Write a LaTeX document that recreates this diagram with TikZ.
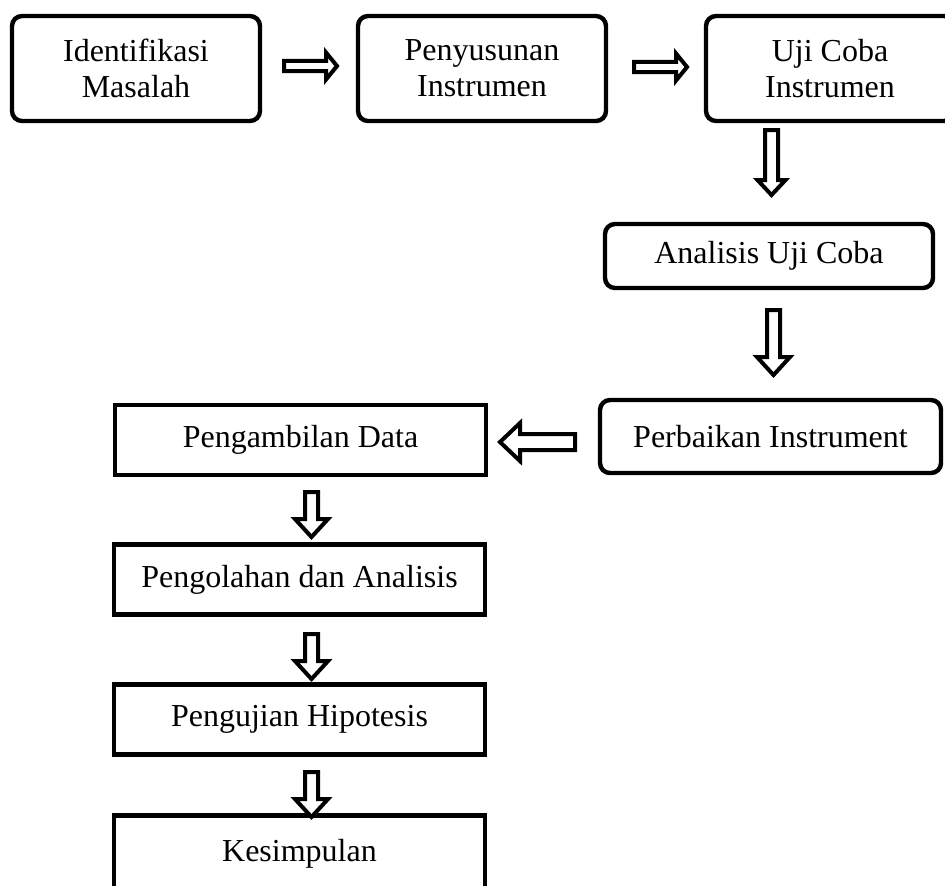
\documentclass[tikz,border=0pt]{standalone}
\usepackage{fontspec}
\setmainfont{Liberation Serif}
\usepackage{tikz}
\usetikzlibrary{calc}
\tikzset{
  kotak/.style={draw=black,line width=2.2pt,rounded corners=5pt,fill=white,align=center,
    inner sep=0pt,font=\fontsize{16}{18}\selectfont},
  kotaksiku/.style={kotak,sharp corners},
  panah/.style n args={3}{draw=black,line width=2pt,fill=white,
    to path={
      ($(\tikztostart)!#1!90:(\tikztotarget)$)
      -- ($($(\tikztotarget)!#3!(\tikztostart)$)!#1!90:(\tikztotarget)$)
      -- ($($(\tikztotarget)!#3!(\tikztostart)$)!#2!90:(\tikztotarget)$)
      -- (\tikztotarget)
      -- ($($(\tikztotarget)!#3!(\tikztostart)$)!#2!-90:(\tikztotarget)$)
      -- ($($(\tikztotarget)!#3!(\tikztostart)$)!#1!-90:(\tikztotarget)$)
      -- ($(\tikztostart)!#1!-90:(\tikztotarget)$) -- cycle}}
}

\begin{document}
\begin{tikzpicture}[x=0.5pt,y=-0.5pt]
\useasboundingbox (0,0) rectangle (945,885);
\clip (0,0) rectangle (945,885);
\node[kotak,minimum width=124pt,minimum height=52.5pt] (identifikasi) at (136,68.5) {Identifikasi\\Masalah};
\node[kotak,minimum width=124pt,minimum height=52.5pt] (penyusunan) at (482,68.5) {Penyusunan\\Instrumen};
\node[kotak,minimum width=124pt,minimum height=52.5pt] (ujicoba) at (830,68.5) {Uji Coba\\Instrumen};
\node[kotak,minimum width=164pt,minimum height=32pt] (analisis) at (769,256) {Analisis Uji Coba};
\node[kotak,minimum width=170.5pt,minimum height=36.5pt] (perbaikan) at (770.5,436.5) {Perbaikan Instrument};
\node[kotaksiku,minimum width=185.5pt,minimum height=35pt] (pengambilan) at (300.5,440) {Pengambilan Data};
\node[kotaksiku,minimum width=185.5pt,minimum height=35pt] (pengolahan) at (299.5,579.5) {Pengolahan dan Analisis};
\node[kotaksiku,minimum width=185.5pt,minimum height=35pt] (pengujian) at (299.5,719.5) {Pengujian Hipotesis};
\node[kotaksiku,minimum width=185.5pt,minimum height=38pt] (kesimpulan) at (299.5,853.5) {Kesimpulan};
\coordinate (p1a) at (284,66); \coordinate (p1b) at (337,66);
\coordinate (p2a) at (634,67); \coordinate (p2b) at (687,67);
\coordinate (p3a) at (771.5,130); \coordinate (p3b) at (771.5,195);
\coordinate (p4a) at (773.5,310); \coordinate (p4b) at (773.5,375);
\coordinate (p5a) at (575,442); \coordinate (p5b) at (500,442);
\coordinate (p6a) at (311.5,492); \coordinate (p6b) at (311.5,537);
\coordinate (p7a) at (311.5,634); \coordinate (p7b) at (311.5,679);
\coordinate (p8a) at (311.5,772); \coordinate (p8b) at (311.5,817);
\draw[panah={2.6pt}{6.75pt}{5.5pt}] (p1a) to (p1b);
\draw[panah={2.6pt}{6.75pt}{5.5pt}] (p2a) to (p2b);
\draw[panah={3.25pt}{7pt}{7.5pt}] (p3a) to (p3b);
\draw[panah={3.25pt}{8.25pt}{9pt}] (p4a) to (p4b);
\draw[panah={4pt}{9.5pt}{10pt}] (p5a) to (p5b);
\foreach \i in {6,7,8}{
  \draw[panah={3.25pt}{8.25pt}{9pt}] (p\i a) to (p\i b);}
\end{tikzpicture}
\end{document}
